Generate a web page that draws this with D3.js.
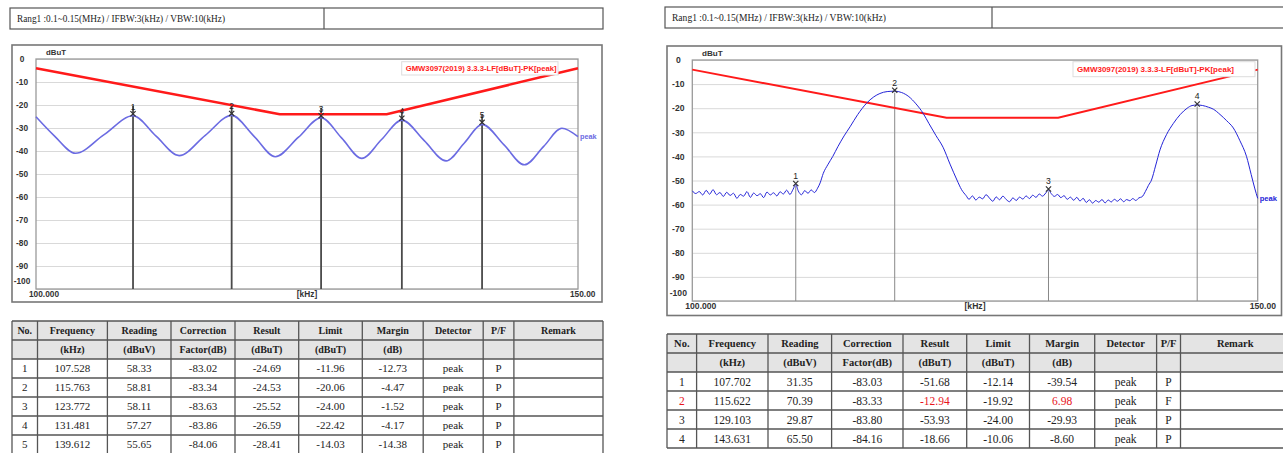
<!DOCTYPE html>
<html><head><meta charset="utf-8">
<script src="https://cdn.jsdelivr.net/npm/d3@7"></script>
<style>html,body{margin:0;padding:0;background:#fff;overflow:hidden}</style>
</head><body>
<svg id="c" width="1283" height="453"></svg>
<script>
// ---------------- data ----------------
const headerText = "Rang1 :0.1~0.15(MHz) / IFBW:3(kHz) / VBW:10(kHz)";
const legendText = "GMW3097(2019) 3.3.3-LF[dBuT]-PK[peak]";
const traceLabel = "peak";
const yUnit = "dBuT";
const xDomain = [100, 150];
const yTicks = [0, -10, -20, -30, -40, -50, -60, -70, -80, -90, -100];
const xLabels = ["100.000", "[kHz]", "150.00"];
const limitFreq = [100, 120, 130, 150];
const limitLevel = [-4, -24, -24, -4];

const tableHead1 = ["No.", "Frequency", "Reading", "Correction", "Result", "Limit", "Margin", "Detector", "P/F", "Remark"];
const tableHead2 = ["", "(kHz)", "(dBuV)", "Factor(dB)", "(dBuT)", "(dBuT)", "(dB)", "", "", ""];

// left report: [No, Frequency, Reading, Correction, Result, Limit, Margin, Detector, P/F, Remark]
const leftRows = [
  ["1", "107.528", "58.33", "-83.02", "-24.69", "-11.96", "-12.73", "peak", "P", ""],
  ["2", "115.763", "58.81", "-83.34", "-24.53", "-20.06", "-4.47", "peak", "P", ""],
  ["3", "123.772", "58.11", "-83.63", "-25.52", "-24.00", "-1.52", "peak", "P", ""],
  ["4", "131.481", "57.27", "-83.86", "-26.59", "-22.42", "-4.17", "peak", "P", ""],
  ["5", "139.612", "55.65", "-84.06", "-28.41", "-14.03", "-14.38", "peak", "P", ""]
];
const rightRows = [
  ["1", "107.702", "31.35", "-83.03", "-51.68", "-12.14", "-39.54", "peak", "P", ""],
  ["2", "115.622", "70.39", "-83.33", "-12.94", "-19.92", "6.98", "peak", "F", ""],
  ["3", "129.103", "29.87", "-83.80", "-53.93", "-24.00", "-29.93", "peak", "P", ""],
  ["4", "143.631", "65.50", "-84.16", "-18.66", "-10.06", "-8.60", "peak", "P", ""]
];

// left trace (kHz, dBuT): peaks and valleys
const leftTrace = [
  [100, -25.1], [101.4, -33.5], [103.0, -41.0], [105.2, -33.0], [107.528, -24.69],
  [109.4, -33.5], [111.3, -42.0], [113.5, -33.2], [115.763, -24.53],
  [117.7, -33.5], [119.6, -42.5], [121.7, -34.0], [123.772, -25.52],
  [125.7, -34.4], [127.6, -43.2], [129.5, -35.0], [131.481, -26.59],
  [133.7, -35.5], [135.9, -44.3], [137.8, -36.4], [139.612, -28.41],
  [141.9, -37.2], [144.1, -46.0], [146.2, -38.0], [148.2, -30.1], [150, -33.8]
];

// right trace (kHz, dBuT): noise floor and two humps
const rightTrace = [
  [100.0, -54.3], [100.25, -55.4], [100.5, -54.6], [100.75, -56.0], [101.0, -54.1], [101.25, -55.7],
  [101.5, -53.8], [101.75, -55.9], [102.0, -55.0], [102.25, -56.6], [102.5, -54.9], [102.75, -56.2],
  [103.0, -55.3], [103.25, -57.4], [103.5, -55.8], [103.75, -56.5], [104.0, -54.6], [104.25, -57.0],
  [104.5, -55.2], [104.75, -56.3], [105.0, -55.5], [105.25, -57.1], [105.5, -54.8], [105.75, -56.0],
  [106.0, -55.1], [106.25, -56.4], [106.5, -54.7], [106.75, -55.6], [107.0, -54.0], [107.25, -55.8],
  [107.5, -53.6], [107.702, -51.68], [107.9, -54.4], [108.15, -55.9], [108.4, -54.2], [108.65, -55.3],
  [108.9, -53.9], [109.15, -55.0], [109.4, -53.2],
  [109.6, -51.0], [109.85, -47.0], [110.2, -43.5], [110.6, -40.0], [111.0, -36.0], [111.5, -31.5],
  [111.98, -27.7], [112.6, -22.6], [113.3, -18.0], [113.9, -15.3], [114.4, -13.9], [115.0, -13.1],
  [115.622, -12.94], [116.2, -13.5], [116.8, -15.2], [117.4, -18.2], [118.0, -22.1], [118.5, -26.4],
  [119.1, -31.4], [119.7, -36.2], [120.3, -43.2], [120.9, -49.8], [121.3, -53.8], [121.7, -56.3],
  [121.95, -57.8], [122.25, -56.4], [122.55, -58.1], [122.85, -56.9], [123.15, -57.6], [123.45, -55.9],
  [123.75, -57.3], [124.05, -58.6], [124.35, -56.8], [124.65, -58.0], [124.95, -56.5], [125.25, -57.9],
  [125.55, -58.8], [125.85, -57.2], [126.15, -58.3], [126.45, -56.9], [126.75, -57.7], [127.05, -56.4],
  [127.35, -57.5], [127.65, -56.1], [127.95, -57.0], [128.25, -55.6], [128.55, -56.5], [128.85, -55.2],
  [129.103, -53.93], [129.35, -55.4], [129.65, -56.6], [129.95, -55.8], [130.25, -57.1], [130.55, -56.3],
  [130.85, -57.8], [131.15, -56.9], [131.45, -58.2], [131.75, -57.0], [132.05, -58.5], [132.35, -57.4],
  [132.65, -59.1], [132.95, -58.0], [133.25, -59.4], [133.55, -58.3], [133.85, -59.0], [134.15, -57.9],
  [134.45, -59.3], [134.75, -58.1], [135.05, -58.9], [135.35, -57.8], [135.65, -58.6], [135.95, -57.6],
  [136.25, -58.8], [136.55, -57.9], [136.85, -58.4], [137.15, -57.5], [137.45, -58.3], [137.75, -57.2],
  [138.05, -56.8],
  [138.4, -54.5], [138.7, -52.0], [139.0, -49.8], [139.4, -44.0], [139.85, -37.3], [140.5, -31.0],
  [141.2, -26.3], [141.9, -22.6], [142.6, -20.0], [143.1, -18.9], [143.631, -18.66], [144.2, -18.9],
  [144.8, -19.6], [145.3, -20.4], [146.0, -22.6], [146.7, -25.2], [147.4, -28.2], [148.1, -33.5],
  [148.8, -40.0], [149.3, -47.5], [149.7, -53.5], [150.0, -57.4]
];

// ---------------- drawing ----------------
const svg = d3.select("#c");
const SANS = "Liberation Sans, Arial, sans-serif";
const SERIF = "Liberation Serif, Times New Roman, serif";

function drawPanel(p, trace, rows) {
  const g = svg.append("g");
  // header box
  g.append("rect").attr("x", p.hx).attr("y", p.hy).attr("width", p.hw).attr("height", p.hh)
    .attr("fill", "#fff").attr("stroke", "#555").attr("stroke-width", 1.2);
  g.append("line").attr("x1", p.hdiv).attr("x2", p.hdiv).attr("y1", p.hy).attr("y2", p.hy + p.hh)
    .attr("stroke", "#555").attr("stroke-width", 1.2);
  g.append("text").attr("x", p.hx + 7).attr("y", p.hy + p.hh / 2).attr("dy", "0.35em")
    .attr("font-family", SERIF).attr("font-size", 9.5).attr("fill", "#222")
    .attr("textLength", p.htl).attr("lengthAdjust", "spacingAndGlyphs").text(headerText);

  // chart frame
  g.append("rect").attr("x", p.cx).attr("y", p.cy).attr("width", p.cw).attr("height", p.ch)
    .attr("fill", "#fff").attr("stroke", "#777").attr("stroke-width", 1.6);

  const x = d3.scaleLog().domain(xDomain).range([p.px, p.px + p.pw]);
  const y = d3.scaleLinear().domain([yTicks[0], yTicks[yTicks.length - 1]]).range([p.py, p.py + p.ph]);

  // grid
  const grid = g.append("g").attr("transform", `translate(${p.px},0)`)
    .call(d3.axisLeft(y).tickValues(yTicks).tickSize(-p.pw).tickFormat(""));
  grid.select(".domain").remove();
  grid.selectAll("line").attr("stroke", "#d9d9d9").attr("stroke-width", 1);

  // plot border
  g.append("rect").attr("x", p.px).attr("y", p.py).attr("width", p.pw).attr("height", p.ph)
    .attr("fill", "none").attr("stroke", "#9a9a9a").attr("stroke-width", 1.3);

  // y labels
  const ya = g.append("g").attr("transform", `translate(${p.px},0)`)
    .call(d3.axisLeft(y).tickValues(yTicks).tickSize(0).tickPadding(p.labOff).tickFormat(d => String(d)));
  ya.select(".domain").remove();
  ya.selectAll("text").attr("text-anchor", "middle").attr("font-family", SANS)
    .attr("font-weight", "bold").attr("font-size", p.fs).attr("fill", "#333")
    .attr("transform", d => d === yTicks[yTicks.length - 1] ? `translate(0,${-p.lastShift})` : null);

  // unit label
  g.append("text").attr("x", p.px + 20).attr("y", p.py - 6.5).attr("dy", "0.35em").attr("text-anchor", "middle")
    .attr("font-family", SANS).attr("font-weight", "bold").attr("font-size", p.fs - 0.5).attr("fill", "#333").text(yUnit);

  // x labels
  const xl = g.append("g").attr("font-family", SANS).attr("font-weight", "bold").attr("font-size", p.fs).attr("fill", "#333");
  const xly = p.py + p.ph + p.xlOff;
  xl.append("text").attr("x", p.px - 7).attr("y", xly).attr("dy", "0.35em").attr("text-anchor", "start").text(xLabels[0]);
  xl.append("text").attr("x", p.px + p.pw / 2).attr("y", xly).attr("dy", "0.35em").attr("text-anchor", "middle").text(xLabels[1]);
  xl.append("text").attr("x", p.px + p.pw - 8).attr("y", xly).attr("dy", "0.35em").attr("text-anchor", "start").text(xLabels[2]);

  // marker lines
  const mk = rows.map(r => ({ n: r[0], f: +r[1], v: +r[4] }));
  g.append("g").selectAll("line").data(mk).join("line")
    .attr("x1", d => x(d.f)).attr("x2", d => x(d.f))
    .attr("y1", d => y(d.v) + p.mLineTop).attr("y2", p.py + p.ph)
    .attr("stroke", p.mColor).attr("stroke-width", p.mWidth);

  // limit line
  const limPts = limitFreq.map((f, i) => [f, limitLevel[i]]);
  g.append("path").datum(limPts)
    .attr("d", d3.line().x(d => x(d[0])).y(d => y(d[1])))
    .attr("fill", "none").attr("stroke", "#ff1a1a").attr("stroke-width", p.limW);

  // trace
  g.append("path").datum(trace)
    .attr("d", d3.line().x(d => x(d[0])).y(d => y(d[1])).curve(d3.curveMonotoneX))
    .attr("fill", "none").attr("stroke", p.trColor).attr("stroke-width", p.trW);

  // marker symbols
  const ms = g.append("g").selectAll("g").data(mk).join("g")
    .attr("transform", d => `translate(${x(d.f)},${y(d.v)})`);
  ms.append("path").attr("d", `M-2.6,${p.xOff - 2.6}L2.6,${p.xOff + 2.6}M-2.6,${p.xOff + 2.6}L2.6,${p.xOff - 2.6}`)
    .attr("stroke", "#333").attr("stroke-width", 1.2);
  ms.append("text").attr("y", p.numOff).attr("text-anchor", "middle").attr("font-family", SANS)
    .attr("font-size", p.fs).attr("fill", "#222").text(d => d.n);

  // trace label
  const last = trace[trace.length - 1];
  g.append("text").attr("x", x(last[0]) + 2).attr("y", y(last[1])).attr("dy", "0.35em")
    .attr("font-family", SANS).attr("font-weight", "bold").attr("font-size", p.fs - 1)
    .attr("fill", p.trColor).text(traceLabel);

  // legend
  g.append("rect").attr("x", p.lx).attr("y", p.ly).attr("width", p.lw).attr("height", p.lh)
    .attr("fill", "#fff").attr("stroke", "#ddd").attr("stroke-width", 1);
  g.append("text").attr("x", p.lx + 4).attr("y", p.ly + p.lh / 2).attr("dy", "0.35em")
    .attr("font-family", SANS).attr("font-weight", "bold").attr("font-size", p.fs - 0.8).attr("fill", "#ff1a1a")
    .attr("textLength", p.ltl).attr("lengthAdjust", "spacingAndGlyphs").text(legendText);
}

function drawTable(t, rows) {
  const g = svg.append("g");
  const ys = [t.top, t.top + t.h1, t.top + t.h1 + t.h2];
  rows.forEach(() => ys.push(ys[ys.length - 1] + t.rh));
  const x0 = t.cols[0], x1 = t.cols[t.cols.length - 1];
  g.append("rect").attr("x", x0).attr("y", ys[0]).attr("width", x1 - x0).attr("height", ys[2] - ys[0]).attr("fill", "#e4e4e4");
  g.selectAll("line.h").data(ys).join("line").attr("class", "h")
    .attr("x1", x0).attr("x2", x1).attr("y1", d => d).attr("y2", d => d)
    .attr("stroke", "#555").attr("stroke-width", 1.3);
  g.selectAll("line.v").data(t.cols).join("line").attr("class", "v")
    .attr("x1", d => d).attr("x2", d => d).attr("y1", ys[0]).attr("y2", ys[ys.length - 1])
    .attr("stroke", "#555").attr("stroke-width", 1.3);
  const cx = i => (t.cols[i] + t.cols[i + 1]) / 2;
  const row = (cells, yc, bold, size, colorFn) => {
    cells.forEach((c, i) => {
      if (!c) return;
      g.append("text").attr("x", cx(i)).attr("y", yc).attr("dy", "0.35em").attr("text-anchor", "middle")
        .attr("font-family", SERIF).attr("font-weight", bold ? "bold" : "normal").attr("font-size", size)
        .attr("fill", colorFn ? colorFn(i) : "#222").text(c);
    });
  };
  row(tableHead1, (ys[0] + ys[1]) / 2, true, t.hfs);
  row(tableHead2, (ys[1] + ys[2]) / 2, true, t.hfs);
  rows.forEach((r, k) => {
    const fail = r[8] === "F";
    row(r, (ys[k + 2] + ys[k + 3]) / 2, false, t.dfs, i => (fail && (i === 0 || i === 4 || i === 6)) ? "#e8141c" : "#222");
  });
}

drawPanel({
  hx: 10, hy: 8, hw: 593, hh: 21, hdiv: 324, htl: 208,
  cx: 12, cy: 45, cw: 590, ch: 257,
  px: 36, py: 59, pw: 542, ph: 230,
  labOff: 14, lastShift: 8, xlOff: 5, fs: 8.3,
  mColor: "#4a4a4a", mWidth: 1.8, mLineTop: -10, xOff: -2, numOff: -6,
  limW: 2.6, trColor: "#6b6be2", trW: 1.6,
  lx: 401.7, ly: 61.7, lw: 156.3, lh: 13.3, ltl: 151
}, leftTrace, leftRows);

drawPanel({
  hx: 665, hy: 7, hw: 630, hh: 21, hdiv: 992, htl: 214,
  cx: 667, cy: 46, cw: 614.5, ch: 269.5,
  px: 692.3, py: 60, pw: 565.4, ph: 241,
  labOff: 14, lastShift: 8.7, xlOff: 5, fs: 8.6,
  mColor: "#888", mWidth: 1, mLineTop: 1.5, xOff: -1, numOff: -5.5,
  limW: 2, trColor: "#2424d8", trW: 1,
  lx: 1073, ly: 61.7, lw: 182, lh: 15, ltl: 157
}, rightTrace, rightRows);

drawTable({ top: 321, h1: 19, h2: 19, rh: 19,
  cols: [12, 37.5, 107.4, 171, 235, 298.7, 362.3, 423.2, 483.2, 513.9, 603], hfs: 10, dfs: 11 }, leftRows);
drawTable({ top: 334, h1: 19, h2: 19, rh: 19,
  cols: [667, 696.6, 768, 831.6, 903, 966.7, 1029.5, 1094.7, 1156.6, 1180.5, 1290], hfs: 10.5, dfs: 11.5 }, rightRows);
</script>
</body></html>
